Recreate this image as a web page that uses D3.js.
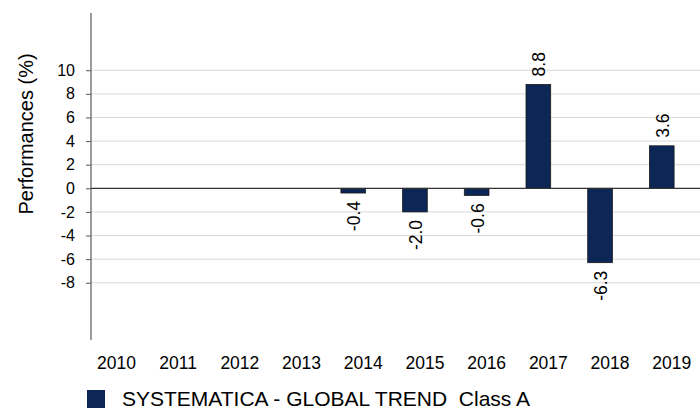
<!DOCTYPE html>
<html>
<head>
<meta charset="utf-8">
<script src="https://cdn.jsdelivr.net/npm/d3@7"></script>
<style>
  html, body { margin: 0; padding: 0; background: #fff; }
  svg { display: block; font-family: "Liberation Sans", Arial, sans-serif; }
</style>
</head>
<body>
<svg id="chart" width="700" height="411"></svg>
<script>
const years = ["2010","2011","2012","2013","2014","2015","2016","2017","2018","2019"];
const values = [null, null, null, null, -0.4, -2.0, -0.6, 8.8, -6.3, 3.6];
const valueLabels = ["", "", "", "", "-0.4", "-2.0", "-0.6", "8.8", "-6.3", "3.6"];
const yTicks = [-8, -6, -4, -2, 0, 2, 4, 6, 8, 10];
const seriesName = "SYSTEMATICA - GLOBAL TREND  Class A";
const yTitle = "Performances (%)";

const svg = d3.select("#chart");
const barColor = "#0c2656";

const x = d3.scaleBand().domain(years).range([75.6, 692.6]).paddingInner(0.6).paddingOuter(0.3);
const y = d3.scaleLinear().domain([-12.85, 14.85]).range([340, 13]);
const axisX = 91, rightX = 700;

// gridlines
svg.append("g").selectAll("line").data(yTicks.filter(d => d !== 0)).join("line")
  .attr("x1", axisX).attr("x2", rightX)
  .attr("y1", d => y(d)).attr("y2", d => y(d))
  .attr("stroke", "#d9d9d9").attr("stroke-width", 1);

// y axis
const yAxis = d3.axisLeft(y).tickValues(yTicks).tickSize(5).tickPadding(11).tickFormat(d => String(d));
const gy = svg.append("g").attr("transform", `translate(${axisX},0)`).call(yAxis);
gy.select(".domain").remove();
gy.selectAll(".tick line").attr("stroke", "#555");
gy.selectAll(".tick text").attr("font-size", 16).attr("fill", "#000")
  .attr("font-family", "'Liberation Sans', Arial, sans-serif");
svg.append("line").attr("x1", axisX).attr("x2", axisX)
  .attr("y1", y.range()[1]).attr("y2", y.range()[0])
  .attr("stroke", "#666").attr("stroke-width", 1.3);

// bars
const data = years.map((yr, i) => ({yr, v: values[i], lbl: valueLabels[i]})).filter(d => d.v !== null);
svg.append("g").selectAll("rect").data(data).join("rect")
  .attr("x", d => x(d.yr))
  .attr("width", x.bandwidth())
  .attr("y", d => y(Math.max(0, d.v)))
  .attr("height", d => Math.abs(y(d.v) - y(0)))
  .attr("fill", barColor)
  .attr("stroke", "#1a1a1a").attr("stroke-width", 0.8);

// zero line
svg.append("line").attr("x1", axisX).attr("x2", rightX)
  .attr("y1", y(0)).attr("y2", y(0))
  .attr("stroke", "#333").attr("stroke-width", 1.2);

// value labels
svg.append("g").selectAll("text").data(data).join("text")
  .attr("transform", d => {
    const cx = x(d.yr) + x.bandwidth() / 2 + 1;
    const yy = d.v >= 0 ? y(d.v) - 8 : y(d.v) + 8;
    return `translate(${cx},${yy}) rotate(-90)`;
  })
  .attr("text-anchor", d => d.v >= 0 ? "start" : "end")
  .attr("dy", "0.35em")
  .attr("font-size", 17.5).attr("fill", "#000")
  .text(d => d.lbl);

// x labels
svg.append("g").selectAll("text").data(years).join("text")
  .attr("x", d => x(d) + x.bandwidth() / 2 + 10)
  .attr("y", 369)
  .attr("text-anchor", "middle")
  .attr("font-size", 17.5).attr("fill", "#000")
  .text(d => d);

// y title
svg.append("text")
  .attr("transform", "translate(33,134) rotate(-90)")
  .attr("text-anchor", "middle")
  .attr("font-size", 20).attr("fill", "#000")
  .text(yTitle);

// legend
svg.append("rect").attr("x", 87).attr("y", 390).attr("width", 18).attr("height", 18)
  .attr("fill", barColor);
svg.append("text").attr("x", 122).attr("y", 406)
  .attr("font-size", 21).attr("fill", "#000")
  .style("white-space", "pre")
  .text(seriesName);
</script>
</body>
</html>
